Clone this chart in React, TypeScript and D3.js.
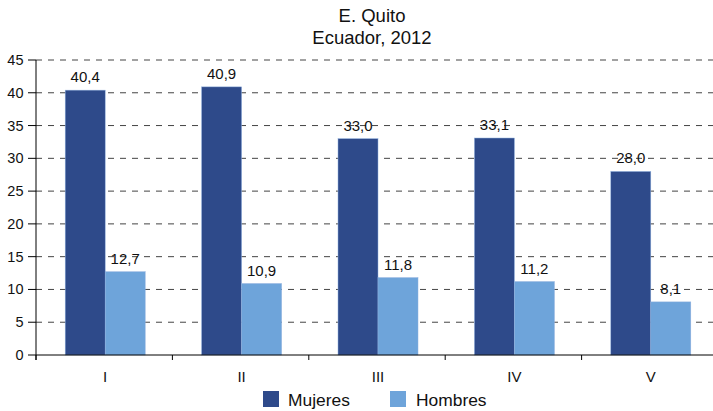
import React from "react";
import * as d3 from "d3";

const categories = ["I", "II", "III", "IV", "V"];
const mujeres = [40.4, 40.9, 33.0, 33.1, 28.0];
const hombres = [12.7, 10.9, 11.8, 11.2, 8.1];
const yTicks = [0, 5, 10, 15, 20, 25, 30, 35, 40, 45];
const seriesNames = ["Mujeres", "Hombres"];
const colors = ["#2E4A8A", "#6EA4DA"];

const fmt = (v: number) => v.toFixed(1).replace(".", ",");

export default function App() {
  const W = 713, H = 411;
  const left = 36, right = 718, top = 60, bottom = 355;
  const x = d3.scaleBand<string>().domain(categories).range([left, right]);
  const y = d3.scaleLinear().domain([0, 45]).range([bottom, top]);
  const barW = 40;
  const font = "'Liberation Sans', Arial, sans-serif";
  const series = [mujeres, hombres];
  return (
    <svg width={W} height={H} style={{ position: "absolute", left: 0, top: 0 }} fontFamily={font}>
      <rect width={W} height={H} fill="#fff" />
      <text x={372} y={22} textAnchor="middle" fontSize={18.5} fill="#111">E. Quito</text>
      <text x={372} y={44} textAnchor="middle" fontSize={18.5} fill="#111">Ecuador, 2012</text>
      {yTicks.map((t) => (
        <g key={t}>
          {t > 0 && (
            <line x1={left} x2={W} y1={y(t)} y2={y(t)} stroke="#444" strokeDasharray="6,6" strokeWidth={1} />
          )}
          <line x1={28} x2={left} y1={y(t)} y2={y(t)} stroke="#000" />
          <text x={23.5} y={y(t) + 5} textAnchor="end" fontSize={14.5} fill="#111">{t}</text>
        </g>
      ))}
      {categories.map((c, i) => {
        const cx = x(c)! + x.bandwidth() / 2 + 1;
        return (
          <g key={c}>
            {series.map((s, j) => {
              const bx = cx - barW + j * barW;
              return (
                <g key={j}>
                  <rect x={bx} y={y(s[i])} width={barW} height={bottom - y(s[i])} fill={colors[j]} stroke="#8fb0dd" strokeWidth={0.5} />
                  <text x={bx + barW / 2} y={y(s[i]) - 8} textAnchor="middle" fontSize={15} fill="#111">{fmt(s[i])}</text>
                </g>
              );
            })}
            <text x={x(c)! + x.bandwidth() / 2 + 1} y={382} textAnchor="middle" fontSize={15} fill="#111">{c}</text>
          </g>
        );
      })}
      {categories.map((c) => (
        <line key={c} x1={x(c)!} x2={x(c)!} y1={bottom} y2={bottom + 5} stroke="#000" />
      ))}
      <line x1={left} x2={W} y1={bottom} y2={bottom} stroke="#000" />
      <line x1={left} x2={left} y1={top} y2={bottom + 5} stroke="#000" />
      {seriesNames.map((n, j) => (
        <g key={n}>
          <rect x={263 + j * 127} y={391} width={16} height={16} fill={colors[j]} />
          <text x={288 + j * 128} y={405.5} fontSize={17.4} fill="#111">{n}</text>
        </g>
      ))}
    </svg>
  );
}
